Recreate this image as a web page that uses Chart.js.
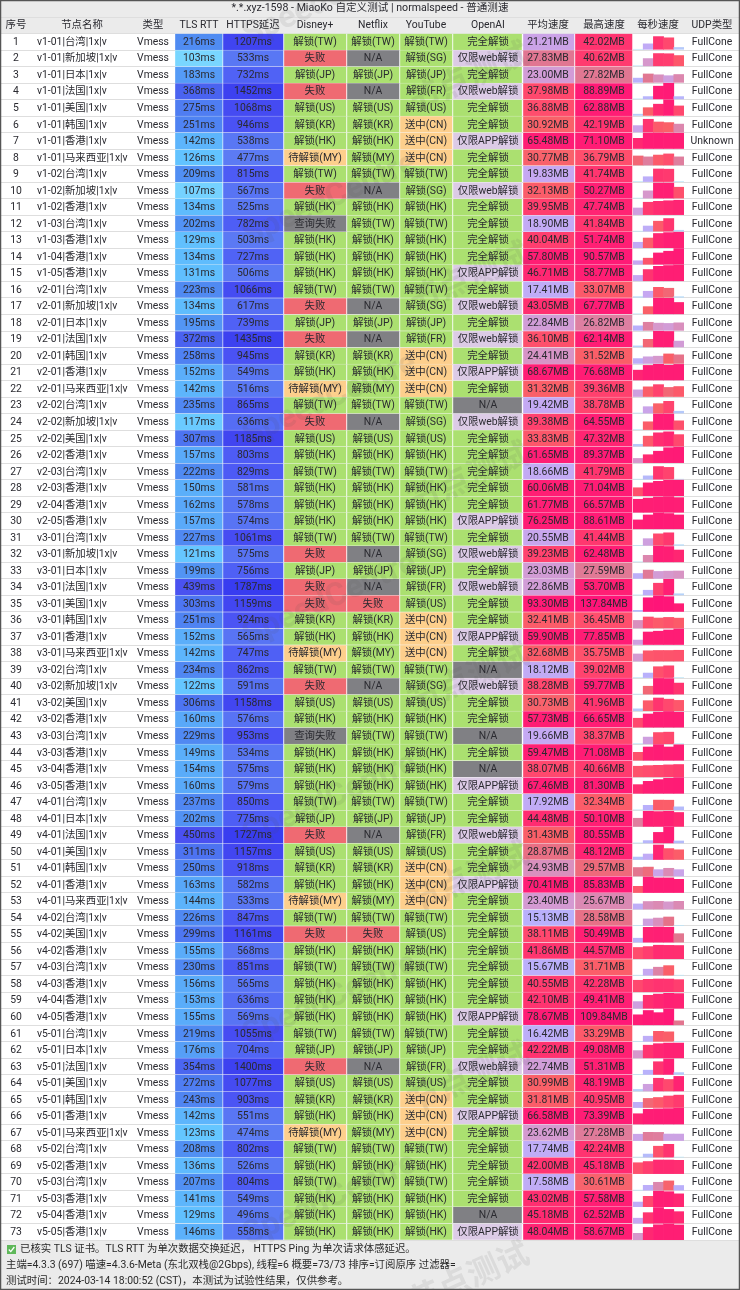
<!DOCTYPE html>
<html><head><meta charset="utf-8">
<style>html,body{margin:0;padding:0;background:#ebebeb;width:740px;height:1290px;overflow:hidden}
#wrap{position:relative;width:740px;height:1290px}
canvas{position:absolute;display:block}</style>
<script src="https://cdn.jsdelivr.net/npm/chart.js@4"></script></head><body>
<div id="wrap"><canvas id="table" width="740" height="1290" style="left:0;top:0;width:740px;height:1290px"></canvas>
<canvas id="spark" width="51" height="1207" style="left:633px;top:33px;width:51px;height:1207px"></canvas></div>
<script>
const titleText='*.*.xyz-1598 - MiaoKo 自定义测试 | normalspeed - 普通测速';
const headers=['序号','节点名称','类型','TLS RTT','HTTPS延迟','Disney+','Netflix','YouTube','OpenAI','平均速度','最高速度','每秒速度','UDP类型'];
const names=['v1-01|台湾|1x|v','v1-01|新加坡|1x|v','v1-01|日本|1x|v','v1-01|法国|1x|v','v1-01|美国|1x|v','v1-01|韩国|1x|v','v1-01|香港|1x|v','v1-01|马来西亚|1x|v','v1-02|台湾|1x|v','v1-02|新加坡|1x|v','v1-02|香港|1x|v','v1-03|台湾|1x|v','v1-03|香港|1x|v','v1-04|香港|1x|v','v1-05|香港|1x|v','v2-01|台湾|1x|v','v2-01|新加坡|1x|v','v2-01|日本|1x|v','v2-01|法国|1x|v','v2-01|韩国|1x|v','v2-01|香港|1x|v','v2-01|马来西亚|1x|v','v2-02|台湾|1x|v','v2-02|新加坡|1x|v','v2-02|美国|1x|v','v2-02|香港|1x|v','v2-03|台湾|1x|v','v2-03|香港|1x|v','v2-04|香港|1x|v','v2-05|香港|1x|v','v3-01|台湾|1x|v','v3-01|新加坡|1x|v','v3-01|日本|1x|v','v3-01|法国|1x|v','v3-01|美国|1x|v','v3-01|韩国|1x|v','v3-01|香港|1x|v','v3-01|马来西亚|1x|v','v3-02|台湾|1x|v','v3-02|新加坡|1x|v','v3-02|美国|1x|v','v3-02|香港|1x|v','v3-03|台湾|1x|v','v3-03|香港|1x|v','v3-04|香港|1x|v','v3-05|香港|1x|v','v4-01|台湾|1x|v','v4-01|日本|1x|v','v4-01|法国|1x|v','v4-01|美国|1x|v','v4-01|韩国|1x|v','v4-01|香港|1x|v','v4-01|马来西亚|1x|v','v4-02|台湾|1x|v','v4-02|美国|1x|v','v4-02|香港|1x|v','v4-03|台湾|1x|v','v4-03|香港|1x|v','v4-04|香港|1x|v','v4-05|香港|1x|v','v5-01|台湾|1x|v','v5-01|日本|1x|v','v5-01|法国|1x|v','v5-01|美国|1x|v','v5-01|韩国|1x|v','v5-01|香港|1x|v','v5-01|马来西亚|1x|v','v5-02|台湾|1x|v','v5-02|香港|1x|v','v5-03|台湾|1x|v','v5-03|香港|1x|v','v5-04|香港|1x|v','v5-05|香港|1x|v'];
const tlsRtt=[216,103,183,368,275,251,142,126,209,107,134,202,129,134,131,223,134,195,372,258,152,142,235,117,307,157,222,150,162,157,227,121,199,439,303,251,152,142,234,122,306,160,229,149,154,160,237,202,450,311,250,163,144,226,299,155,230,156,153,155,219,176,354,272,243,142,123,208,136,207,141,129,146];
const httpsPing=[1207,533,732,1452,1068,946,538,477,815,567,525,782,503,727,506,1066,617,739,1435,945,549,516,865,636,1185,803,829,581,578,574,1061,575,756,1787,1159,924,565,747,862,591,1158,576,953,534,575,579,850,775,1727,1157,918,582,533,847,1161,568,851,565,636,569,1055,704,1400,1077,903,551,474,802,526,804,549,496,558];
const disney=['解锁(TW)','失败','解锁(JP)','失败','解锁(US)','解锁(KR)','解锁(HK)','待解锁(MY)','解锁(TW)','失败','解锁(HK)','查询失败','解锁(HK)','解锁(HK)','解锁(HK)','解锁(TW)','失败','解锁(JP)','失败','解锁(KR)','解锁(HK)','待解锁(MY)','解锁(TW)','失败','解锁(US)','解锁(HK)','解锁(TW)','解锁(HK)','解锁(HK)','解锁(HK)','解锁(TW)','失败','解锁(JP)','失败','失败','解锁(KR)','解锁(HK)','待解锁(MY)','解锁(TW)','失败','解锁(US)','解锁(HK)','查询失败','解锁(HK)','解锁(HK)','解锁(HK)','解锁(TW)','解锁(JP)','失败','解锁(US)','解锁(KR)','解锁(HK)','待解锁(MY)','解锁(TW)','失败','解锁(HK)','解锁(TW)','解锁(HK)','解锁(HK)','解锁(HK)','解锁(TW)','解锁(JP)','失败','解锁(US)','解锁(KR)','解锁(HK)','待解锁(MY)','解锁(TW)','解锁(HK)','解锁(TW)','解锁(HK)','解锁(HK)','解锁(HK)'];
const netflix=['解锁(TW)','N/A','解锁(JP)','N/A','解锁(US)','解锁(KR)','解锁(HK)','解锁(MY)','解锁(TW)','N/A','解锁(HK)','解锁(TW)','解锁(HK)','解锁(HK)','解锁(HK)','解锁(TW)','N/A','解锁(JP)','N/A','解锁(KR)','解锁(HK)','解锁(MY)','解锁(TW)','N/A','解锁(US)','解锁(HK)','解锁(TW)','解锁(HK)','解锁(HK)','解锁(HK)','解锁(TW)','N/A','解锁(JP)','N/A','失败','解锁(KR)','解锁(HK)','解锁(MY)','解锁(TW)','N/A','解锁(US)','解锁(HK)','解锁(TW)','解锁(HK)','解锁(HK)','解锁(HK)','解锁(TW)','解锁(JP)','N/A','解锁(US)','解锁(KR)','解锁(HK)','解锁(MY)','解锁(TW)','失败','解锁(HK)','解锁(TW)','解锁(HK)','解锁(HK)','解锁(HK)','解锁(TW)','解锁(JP)','N/A','解锁(US)','解锁(KR)','解锁(HK)','解锁(MY)','解锁(TW)','解锁(HK)','解锁(TW)','解锁(HK)','解锁(HK)','解锁(HK)'];
const youtube=['解锁(TW)','解锁(SG)','解锁(JP)','解锁(FR)','解锁(US)','送中(CN)','送中(CN)','送中(CN)','解锁(TW)','解锁(SG)','解锁(HK)','解锁(TW)','解锁(HK)','解锁(HK)','解锁(HK)','解锁(TW)','解锁(SG)','解锁(JP)','解锁(FR)','送中(CN)','送中(CN)','送中(CN)','解锁(TW)','解锁(SG)','解锁(US)','解锁(HK)','解锁(TW)','解锁(HK)','解锁(HK)','解锁(HK)','解锁(TW)','解锁(SG)','解锁(JP)','解锁(FR)','解锁(US)','送中(CN)','送中(CN)','送中(CN)','解锁(TW)','解锁(SG)','解锁(US)','解锁(HK)','解锁(TW)','解锁(HK)','解锁(HK)','解锁(HK)','解锁(TW)','解锁(JP)','解锁(FR)','解锁(US)','送中(CN)','送中(CN)','送中(CN)','解锁(TW)','解锁(US)','解锁(HK)','解锁(TW)','解锁(HK)','解锁(HK)','解锁(HK)','解锁(TW)','解锁(JP)','解锁(FR)','解锁(US)','送中(CN)','送中(CN)','送中(CN)','解锁(TW)','解锁(HK)','解锁(TW)','解锁(HK)','解锁(HK)','解锁(HK)'];
const openai=['完全解锁','仅限web解锁','完全解锁','仅限web解锁','完全解锁','完全解锁','仅限APP解锁','完全解锁','完全解锁','仅限web解锁','完全解锁','完全解锁','完全解锁','完全解锁','仅限APP解锁','完全解锁','仅限web解锁','完全解锁','仅限web解锁','完全解锁','仅限APP解锁','完全解锁','N/A','仅限web解锁','完全解锁','完全解锁','完全解锁','完全解锁','完全解锁','仅限APP解锁','完全解锁','仅限web解锁','完全解锁','仅限web解锁','完全解锁','完全解锁','仅限APP解锁','完全解锁','N/A','仅限web解锁','完全解锁','完全解锁','N/A','完全解锁','N/A','仅限APP解锁','完全解锁','完全解锁','仅限web解锁','完全解锁','完全解锁','仅限APP解锁','完全解锁','完全解锁','完全解锁','完全解锁','完全解锁','完全解锁','完全解锁','仅限APP解锁','完全解锁','完全解锁','仅限web解锁','完全解锁','完全解锁','仅限APP解锁','完全解锁','完全解锁','完全解锁','完全解锁','完全解锁','N/A','仅限APP解锁'];
const avgSpeed=[21.21,27.83,23.00,37.98,36.88,30.92,65.48,30.77,19.83,32.13,39.95,18.90,40.04,57.80,46.71,17.41,43.05,22.84,36.10,24.41,68.67,31.32,19.42,39.38,33.83,61.65,18.66,60.06,61.77,76.25,20.55,39.23,23.03,22.86,93.30,32.41,59.90,32.68,18.12,38.28,30.73,57.73,19.66,59.47,38.07,67.46,17.92,44.48,31.43,28.87,24.93,70.41,23.40,15.13,38.11,41.86,15.67,40.55,42.10,78.67,16.42,42.22,22.74,30.99,31.81,66.58,23.62,17.74,42.00,17.58,43.02,45.18,48.04];
const maxSpeed=[42.02,40.62,27.82,88.89,62.88,42.19,71.10,36.79,41.74,50.27,47.74,41.84,51.74,90.57,58.77,33.07,67.77,26.82,62.14,31.52,76.68,39.36,38.78,64.55,47.32,89.37,41.79,71.04,66.57,88.61,41.44,62.48,27.59,53.70,137.84,36.45,77.85,35.75,39.02,59.77,41.96,66.65,38.37,71.08,40.66,81.30,32.34,50.10,80.55,48.12,29.57,85.83,25.67,28.58,50.49,44.57,31.71,42.28,49.41,109.84,33.29,49.08,51.31,48.19,40.95,73.39,27.28,42.24,45.18,30.61,57.58,62.52,58.67];
const udpType=['FullCone','FullCone','FullCone','FullCone','FullCone','FullCone','Unknown','FullCone','FullCone','FullCone','FullCone','FullCone','FullCone','FullCone','FullCone','FullCone','FullCone','FullCone','FullCone','FullCone','FullCone','FullCone','FullCone','FullCone','FullCone','FullCone','FullCone','FullCone','FullCone','FullCone','FullCone','FullCone','FullCone','FullCone','FullCone','FullCone','FullCone','FullCone','FullCone','FullCone','FullCone','FullCone','FullCone','FullCone','FullCone','FullCone','FullCone','FullCone','FullCone','FullCone','FullCone','FullCone','FullCone','FullCone','FullCone','FullCone','FullCone','FullCone','FullCone','FullCone','FullCone','FullCone','FullCone','FullCone','FullCone','FullCone','FullCone','FullCone','FullCone','FullCone','FullCone','FullCone','FullCone'];
const perSecond=[[0,18,42,38,6],[0,24,40.6,40,34],[14,27.8,25,22,26],[0,13,72,88.9,13],[5,31,45,62.9,38],[21,42,33,31,26],[46,70,71,70,70],[30,27,33,36.8,27],[0,16,41.7,41,0],[0,24,50,50,36],[22,41,44,46,47.7],[0,17,33,41.8,3],[18,32,47,50,51.7],[20,35,65,75,90.5],[20,42,54,57,58.7],[2,20,33,30,2],[0,31,67.7,67,49],[15,26.8,24,23,25],[4,30,62,61,23],[16,22,24,31.5,28.5],[48,71,76.6,72,76],[22,32,39.3,30,33],[0,21,31,38.7,6],[0,32,64.5,64,36],[6,33,44,47.3,38],[24,45,65,85,89.3],[0,11,41.7,39,0],[36,58,65,70,71],[55,60,65,66.5,62],[50,78,88.6,86,78],[0,22,38,41.4,2],[0,26,62.4,61,47],[16,27.5,23,24,24.5],[0,16,40,53.7,4],[10,120,137.8,130,68],[25,36.4,33,35,32.6],[22,62,66,72,77.8],[23.5,34,35,35,35.7],[0,15,36,39,0],[0,30,59.7,59,42],[6,33,41.9,38,34],[38,56,64,66.6,64],[0,22,37,38.3,0],[36,60,71,60,70],[35,37,38,39.5,40.6],[45,62,71,78,81.3],[0,15,32.3,32,10],[27,50,49,50,46],[0,12,54,80.5,10],[8,18,48,36,32],[28,29.5,21,25.5,21],[34,85.8,80,80,72],[17,25,25.6,24,25.6],[0,22,25,28.5,0],[13,49,50.4,49.5,28],[37,40,44.5,44,43.5],[0,20,26.5,31.7,0],[38,41,42.2,42,40],[22,43,47,49.4,48.6],[70,100,85,109.8,28],[0,17,33.2,31.5,0],[24,42,47,49,49],[0,14,42,51.3,6],[5,22,42,38,48.1],[17,30,33,38,40.9],[48,69,71,72,73.3],[21,27.2,27,21.5,21.5],[0,10,36,42.2,0],[36,40,45.1,45,44],[0,16,26,30.6,15.4],[17,38,57.5,55,47],[20,42,62.5,55,46],[24,46,56,58.6,55.4]];
const footerLines=['已核实 TLS 证书。TLS RTT 为单次数据交换延迟， HTTPS Ping 为单次请求体感延迟。','主端=4.3.3 (697) 喵速=4.3.6-Meta (东北双栈@2Gbps), 线程=6 概要=73/73 排序=订阅原序 过滤器=','测试时间：2024-03-14 18:00:52 (CST)，本测试为试验性结果，仅供参考。'];

/* layout of the columns, in canvas pixels */
const colEdges={tls:[175,222.7],https:[223,283.5],disney:[284,346.5],netflix:[347,399.5],youtube:[400,452.5],openai:[453,522],avg:[523,574.5],max:[575,632.5]};
const colCenter=[16,82,153,199,253,315,373,426,488,548,604,658,712];
const FONT='Roboto,"Noto Sans CJK SC",sans-serif';
const TEXT='#2a2a30';

function hex(c){return [1,3,5].map(i=>parseInt(c.substr(i,2),16));}
function ramp(stops,v){
  if(v<=stops[0][0])return stops[0][1];
  for(let i=1;i<stops.length;i++){
    if(v<=stops[i][0]){
      const t=(v-stops[i-1][0])/(stops[i][0]-stops[i-1][0]),a=hex(stops[i-1][1]),b=hex(stops[i][1]);
      return 'rgb('+a.map((x,k)=>Math.round(x+(b[k]-x)*t)).join(',')+')';
    }
  }
  return stops[stops.length-1][1];
}
const rttStops=[[100,'#7cd8ff'],[125,'#62c4ff'],[145,'#5cb2fb'],[180,'#559cf6'],[216,'#508cf2'],[270,'#4f7ef2'],[370,'#4a62f0'],[450,'#4a50f0']];
const httpStops=[[470,'#5c7cf4'],[570,'#5874f4'],[750,'#4f60f5'],[950,'#4a52f4'],[1200,'#4044f0'],[1800,'#383cf0']];
const speedStops=[[0,'#b8e4f8'],[8,'#b4c0fa'],[15,'#b9b0fb'],[20,'#c6a8f2'],[24,'#d698cc'],[28,'#e2758f'],[31,'#fa6068'],[37,'#ff4d6d'],[43,'#ff2f70'],[50,'#ff1f74'],[140,'#ff1478']];
function statusColor(s){
  if(s==='N/A'||s==='查询失败')return '#808084';
  if(s==='失败')return '#ef6a72';
  if(s.startsWith('待解锁')||s.startsWith('送中'))return '#fdcf8c';
  if(s.startsWith('仅限'))return '#dccbe6';
  return '#abe070';
}
const rowLabels=['header'].concat(names);
function cellDataset(edges,colors){
  return {data:[null].concat(names.map(()=>edges)),backgroundColor:[null].concat(colors),borderColor:'rgba(255,255,255,0.6)',borderWidth:0.5,borderSkipped:false};
}
const cellText=[
  i=>String(i+1),null,i=>'Vmess',i=>tlsRtt[i]+'ms',i=>httpsPing[i]+'ms',i=>disney[i],i=>netflix[i],i=>youtube[i],i=>openai[i],
  i=>avgSpeed[i].toFixed(2)+'MB',i=>maxSpeed[i].toFixed(2)+'MB',null,i=>udpType[i]
];
const tablePlugin={
  id:'tableText',
  beforeDraw(c){
    const g=c.ctx,a=c.chartArea,y=c.scales.y;
    g.save();g.fillStyle='#ebebeb';g.fillRect(0,0,740,1290);
    const top=(y.getPixelForValue(0)+y.getPixelForValue(1))/2;
    g.fillStyle='#ffffff';g.fillRect(a.left,top,a.right-a.left,a.bottom-top);g.restore();
  },
  afterDatasetsDraw(c){
    const g=c.ctx,y=c.scales.y,x=c.scales.x;
    g.save();
    /* watermark */
    g.font='bold 32px '+FONT;g.fillStyle='rgba(80,80,80,0.1)';g.textAlign='center';g.textBaseline='middle';
    for(let k=-3;k<4;k++){
      g.save();g.translate(330,600+k*200);g.rotate(-0.42);g.fillText('SpeedCentre',0,0);g.restore();
      g.save();g.translate(470,680+k*200);g.rotate(-0.42);g.fillText('节点测试',0,0);g.restore();
    }
    g.fillStyle=TEXT;g.font='10.4px '+FONT;
    headers.forEach((h,k)=>g.fillText(h,x.getPixelForValue(colCenter[k]),y.getPixelForValue(0)+0.5));
    names.forEach((n,i)=>{
      const py=y.getPixelForValue(i+1)+0.5;
      cellText.forEach((f,k)=>{if(f)g.fillText(f(i),x.getPixelForValue(colCenter[k]),py);});
      g.textAlign='left';g.fillText(n,x.getPixelForValue(37),py);g.textAlign='center';
    });
    /* footer */
    g.textAlign='left';g.font='10.4px '+FONT;g.fillStyle='#2a2a2a';
    g.fillText(footerLines[0],20,1249);g.fillText(footerLines[1],6,1265);g.fillText(footerLines[2],6,1281);
    g.fillStyle='#5fb85a';g.fillRect(7,1245,9,9);
    g.strokeStyle='#ffffff';g.lineWidth=1.3;g.beginPath();g.moveTo(8.8,1249.5);g.lineTo(10.8,1251.6);g.lineTo(14.3,1247);g.stroke();
    g.strokeStyle='#555555';g.lineWidth=1.5;g.strokeRect(0.5,0.5,739,1289);
    g.restore();
  }
};
new Chart(document.getElementById('table'),{
  type:'bar',
  data:{labels:rowLabels,datasets:[
    cellDataset(colEdges.tls,tlsRtt.map(v=>ramp(rttStops,v))),
    cellDataset(colEdges.https,httpsPing.map(v=>ramp(httpStops,v))),
    cellDataset(colEdges.disney,disney.map(statusColor)),
    cellDataset(colEdges.netflix,netflix.map(statusColor)),
    cellDataset(colEdges.youtube,youtube.map(statusColor)),
    cellDataset(colEdges.openai,openai.map(statusColor)),
    cellDataset(colEdges.avg,avgSpeed.map(v=>ramp(speedStops,v))),
    cellDataset(colEdges.max,maxSpeed.map(v=>ramp(speedStops,v)))
  ]},
  options:{
    indexAxis:'y',responsive:false,animation:false,devicePixelRatio:1,
    layout:{padding:{top:0,bottom:50,left:0,right:0}},
    datasets:{bar:{grouped:false,barPercentage:1,categoryPercentage:1}},
    scales:{
      x:{type:'linear',min:0,max:740,display:false},
      y:{type:'category',offset:true,ticks:{display:false},border:{display:false},grid:{color:'#dedede',lineWidth:1,drawTicks:false,offset:true}}
    },
    plugins:{legend:{display:false},tooltip:{enabled:false},
      title:{display:true,text:titleText,color:TEXT,font:{family:FONT,size:10.6,weight:'normal',lineHeight:'15px'},padding:{top:1,bottom:1}}}
  },
  plugins:[tablePlugin]
});
/* per-second speed mini bars: one dataset per row, floating on a row-unit value axis */
new Chart(document.getElementById('spark'),{
  type:'bar',
  data:{labels:['0','1','2','3','4'],datasets:perSecond.map((row,i)=>{
    const s=Math.max(maxSpeed[i],52);
    return {data:row.map(v=>[i+0.985,i+0.985-v/s*0.95]),backgroundColor:row.map(v=>ramp(speedStops,v)),borderWidth:0};
  })},
  options:{responsive:false,animation:false,devicePixelRatio:1,
    layout:{padding:0},
    datasets:{bar:{grouped:false,barPercentage:1,categoryPercentage:1}},
    scales:{x:{display:false},y:{type:'linear',min:0,max:73,reverse:true,display:false}},
    plugins:{legend:{display:false},tooltip:{enabled:false},title:{display:false}}
  }
});
</script></body></html>
